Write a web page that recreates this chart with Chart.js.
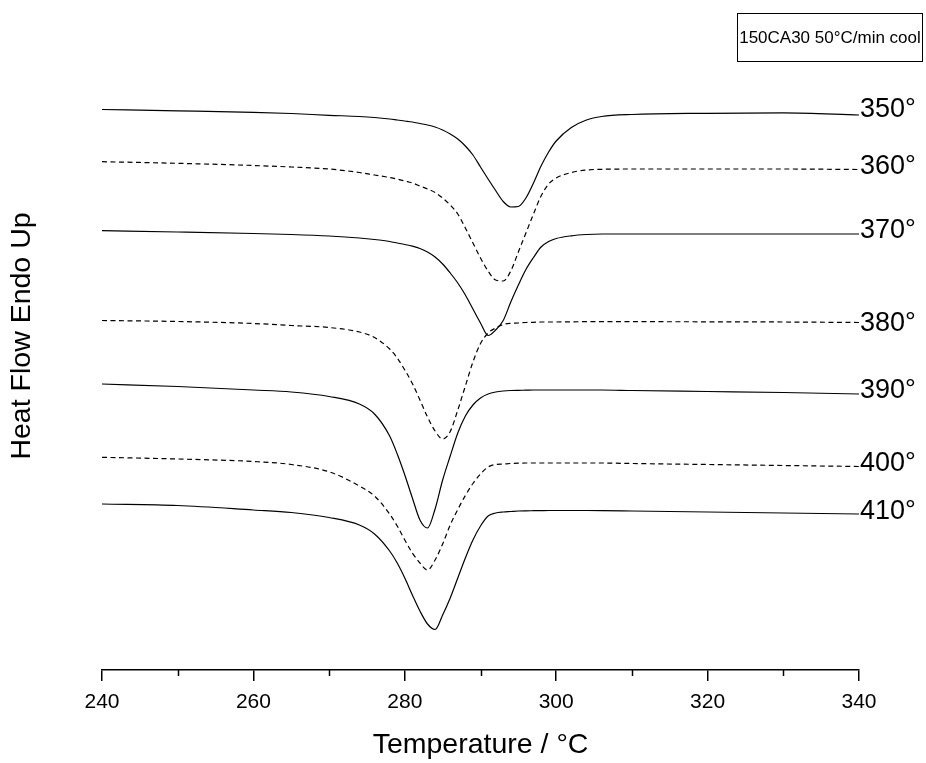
<!DOCTYPE html>
<html>
<head>
<meta charset="utf-8">
<title>DSC cooling curves</title>
<script src="https://cdn.jsdelivr.net/npm/chart.js@4.4.1/dist/chart.umd.min.js"></script>
<style>
  html, body { margin: 0; padding: 0; background: #fff; }
  #wrap { width: 926px; height: 763px; }
</style>
</head>
<body>
<div id="wrap"><canvas id="dscChart" width="926" height="763"></canvas></div>
<script>
// Temperature grid (°C), shared by every scan
const temps = [240, 250, 260, 265, 270, 274, 276, 278, 279, 280, 281, 282, 283, 284, 285, 286, 287, 288, 289, 290,
  291, 292, 293, 294, 295, 296, 297, 298, 299, 300, 302, 304, 306, 310, 320, 330, 340];

// Heat flow (arbitrary units, stacked) for each melt temperature
const hf350 = [56.05, 55.92, 55.77, 55.65, 55.47, 55.35, 55.25, 55.1, 55.0, 54.9, 54.8, 54.65, 54.5, 54.3, 54.0, 53.6, 53.1, 52.4, 51.5, 50.3,
  49.1, 47.95, 46.85, 46.3, 46.35, 47.2, 48.7, 50.4, 51.8, 52.9, 54.25, 55.0, 55.35, 55.55, 55.67, 55.72, 55.5];
const hf360 = [50.83, 50.67, 50.45, 50.3, 50.1, 49.75, 49.5, 49.25, 49.1, 48.9, 48.7, 48.4, 48.1, 47.75, 47.2, 46.5, 45.6, 44.2, 42.7, 41.2,
  39.9, 39.0, 38.9, 39.9, 41.8, 43.7, 45.6, 47.4, 48.6, 49.2, 49.75, 50.0, 50.07, 50.1, 50.1, 50.1, 50.05];
const hf370 = [43.93, 43.8, 43.65, 43.55, 43.4, 43.2, 43.05, 42.85, 42.7, 42.55, 42.38, 42.15, 41.8, 41.3, 40.6, 39.7, 38.7, 37.5, 36.1, 34.7,
  33.45, 34.0, 34.95, 36.8, 38.5, 40.05, 41.25, 42.3, 42.85, 43.15, 43.42, 43.55, 43.6, 43.6, 43.6, 43.6, 43.6];
const hf380 = [34.95, 34.85, 34.65, 34.45, 34.25, 33.8, 33.25, 32.1, 31.2, 30.0, 28.65, 27.0, 25.3, 23.9, 23.1, 23.85, 26.0, 28.4, 30.8, 32.65,
  33.7, 34.2, 34.55, 34.67, 34.7, 34.75, 34.77, 34.8, 34.8, 34.8, 34.82, 34.83, 34.83, 34.83, 34.82, 34.8, 34.75];
const hf390 = [28.6, 28.35, 28.0, 27.8, 27.35, 26.6, 25.6, 23.4, 21.6, 19.5, 17.2, 15.0, 14.2, 16.1, 19.0, 21.4, 23.7, 25.4, 26.5, 27.2,
  27.6, 27.8, 27.9, 27.95, 27.97, 27.98, 28.0, 28.0, 28.0, 28.0, 28.0, 28.0, 28.0, 27.95, 27.85, 27.75, 27.6];
const hf400 = [21.27, 21.1, 20.85, 20.55, 19.82, 18.4, 17.4, 15.6, 14.4, 13.0, 11.7, 10.7, 10.0, 11.0, 12.6, 14.5, 16.05, 17.45, 18.65, 19.6,
  20.3, 20.55, 20.6, 20.65, 20.68, 20.7, 20.7, 20.7, 20.7, 20.7, 20.7, 20.7, 20.7, 20.65, 20.55, 20.45, 20.35];
const hf410 = [16.6, 16.45, 16.0, 15.75, 15.25, 14.5, 13.6, 11.9, 10.7, 9.2, 7.5, 5.9, 4.6, 4.05, 5.5, 7.2, 9.2, 11.2, 13.0, 14.4,
  15.4, 15.7, 15.8, 15.85, 15.9, 15.92, 15.93, 15.94, 15.95, 15.95, 15.95, 15.95, 15.94, 15.9, 15.8, 15.7, 15.6];

const curveLabels = ['350°', '360°', '370°', '380°', '390°', '400°', '410°'];
const curveData = [hf350, hf360, hf370, hf380, hf390, hf400, hf410];
const dashed = [false, true, false, true, false, true, false];

const xTicks = [240, 250, 260, 270, 280, 290, 300, 310, 320, 330, 340];
const boxTitle = '150CA30 50°C/min cool';

const FONT = 'Arial, "Liberation Sans", Helvetica, sans-serif';

// curve names at the right-hand end of each trace
const labelShift = [-5, -3, -3, 1, -3, -3, -2];
const endLabels = {
  id: 'endLabels',
  afterDatasetsDraw(chart) {
    const ctx = chart.ctx;
    ctx.save();
    ctx.font = '27px ' + FONT;
    ctx.fillStyle = '#000';
    ctx.textBaseline = 'middle';
    ctx.textAlign = 'left';
    chart.data.datasets.forEach((ds, i) => {
      const pts = chart.getDatasetMeta(i).data;
      const last = pts[pts.length - 1];
      ctx.fillText(ds.label, last.x + 1, last.y + labelShift[i]);
    });
    ctx.restore();
  }
};

// half-length minor ticks between the labelled ones
const minorTicks = {
  id: 'minorTicks',
  afterDraw(chart) {
    const sx = chart.scales.x;
    const ctx = chart.ctx;
    ctx.save();
    ctx.strokeStyle = '#000';
    ctx.lineWidth = 1.5;
    xTicks.filter(v => v % 20 !== 0).forEach(v => {
      const px = Math.round(sx.getPixelForValue(v)) + 0.5;
      ctx.beginPath();
      ctx.moveTo(px, sx.top);
      ctx.lineTo(px, sx.top + 6);
      ctx.stroke();
    });
    ctx.restore();
  }
};

// framed caption in the top right corner
const captionBox = {
  id: 'captionBox',
  afterDraw(chart) {
    const ctx = chart.ctx;
    ctx.save();
    ctx.strokeStyle = '#000';
    ctx.lineWidth = 1;
    ctx.strokeRect(737.5, 13.5, 185, 48);
    ctx.font = '17px ' + FONT;
    ctx.fillStyle = '#000';
    ctx.textAlign = 'center';
    ctx.textBaseline = 'middle';
    ctx.fillText(boxTitle, 830, 38);
    ctx.restore();
  }
};

const datasets = curveData.map((vals, i) => ({
  label: curveLabels[i],
  data: temps.map((t, j) => ({ x: t, y: vals[j] })),
  borderColor: '#000',
  borderWidth: 1.2,
  borderDash: dashed[i] ? [5, 3.5] : [],
  pointRadius: 0,
  fill: false,
  cubicInterpolationMode: 'monotone'
}));

new Chart(document.getElementById('dscChart'), {
  type: 'line',
  data: { datasets },
  options: {
    responsive: false,
    animation: false,
    layout: { padding: { top: 2, right: 67, left: 0, bottom: 0 } },
    plugins: { legend: { display: false }, tooltip: { enabled: false } },
    scales: {
      x: {
        type: 'linear',
        min: 240,
        max: 340,
        afterBuildTicks: s => { s.ticks = xTicks.map(v => ({ value: v })); },
        afterFit: s => { s.height = 93; },
        ticks: {
          autoSkip: false,
          maxRotation: 0,
          padding: 9,
          color: '#000',
          font: { family: FONT, size: 21 },
          callback: v => (v % 20 === 0 ? v : '')
        },
        grid: {
          drawOnChartArea: false,
          tickLength: 11,
          lineWidth: 1.5,
          color: c => (c.tick && c.tick.value % 20 === 0 ? '#000' : 'rgba(0,0,0,0)')
        },
        border: { color: '#000', width: 1.6 },
        title: {
          display: true,
          text: 'Temperature / °C',
          color: '#000',
          font: { family: FONT, size: 28.5 },
          padding: { top: 4, bottom: 1 }
        }
      },
      y: {
        min: 0,
        max: 66.8,
        afterFit: s => { s.width = 102; },
        ticks: { display: false },
        grid: { display: false },
        border: { display: false },
        title: {
          display: true,
          text: 'Heat Flow Endo Up',
          color: '#000',
          font: { family: FONT, size: 28.5 },
          padding: { top: 5, bottom: 4 }
        }
      }
    }
  },
  plugins: [endLabels, minorTicks, captionBox]
});
</script>
</body>
</html>
